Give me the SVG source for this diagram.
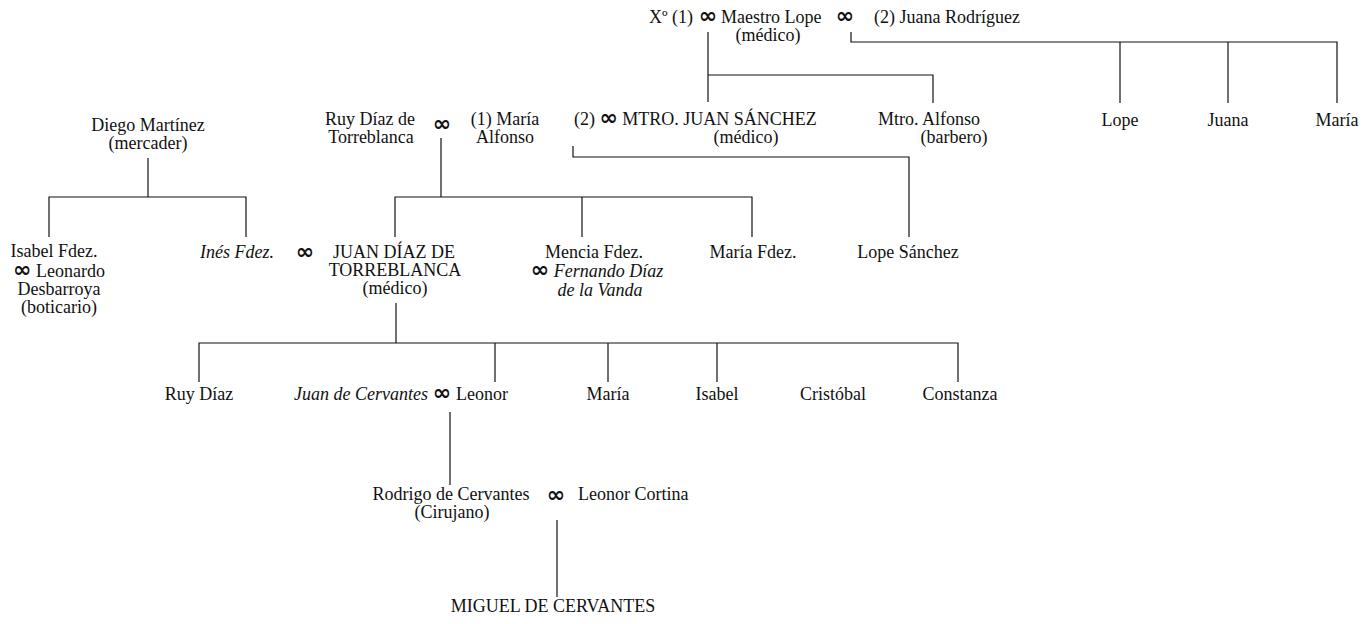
<svg xmlns="http://www.w3.org/2000/svg" width="1362" height="624" viewBox="0 0 1362 624">
<style>
  text { font-family: "Liberation Serif", "Times New Roman", serif; font-size: 18px; fill: #111; }
  .c { text-anchor: middle; }
  .e { text-anchor: end; }
  .i { font-style: italic; }
  .m { font-family: "DejaVu Sans", "Liberation Sans", sans-serif; font-weight: bold; font-size: 22px; }
  #connectors path { fill: none; stroke: #111; stroke-width: 1.2; }
</style>
<rect width="1362" height="624" fill="#ffffff"/>

<g id="connectors">
  <path d="M708 32 V102"/>
  <path d="M708 75 H933 V103"/>
  <path d="M851 32 V42 H1337 V103"/>
  <path d="M1120 42 V103"/>
  <path d="M1228 42 V103"/>
  <path d="M148 158 V197"/>
  <path d="M49 237 V197 H246 V237"/>
  <path d="M441 138 V197"/>
  <path d="M395 237 V197 H752 V237"/>
  <path d="M582 197 V237"/>
  <path d="M573 146 V157 H909 V237"/>
  <path d="M396 303 V343"/>
  <path d="M199 382 V343 H958 V382"/>
  <path d="M495 343 V382"/>
  <path d="M608 343 V382"/>
  <path d="M717 343 V382"/>
  <path d="M450 412 V485"/>
  <path d="M557 520 V597"/>
</g>

<g id="n-xo"><text x="693" y="23" class="e">Xº (1)</text></g>
<g id="m-lope-1"><text x="708" y="23" class="c m">∞</text></g>
<g id="n-maestro-lope"><text x="721" y="23">Maestro Lope</text><text x="768" y="41" class="c">(médico)</text></g>
<g id="m-lope-2"><text x="845" y="23" class="c m">∞</text></g>
<g id="n-juana-rodriguez"><text x="874" y="23">(2) Juana Rodríguez</text></g>

<g id="n-lope"><text x="1120" y="126" class="c">Lope</text></g>
<g id="n-juana"><text x="1228" y="126" class="c">Juana</text></g>
<g id="n-maria-top"><text x="1337" y="126" class="c">María</text></g>

<g id="n-diego-martinez"><text x="148" y="131" class="c">Diego Martínez</text><text x="148" y="149" class="c">(mercader)</text></g>
<g id="n-ruy-diaz-torreblanca"><text x="370" y="125" class="c">Ruy Díaz de</text><text x="371" y="143" class="c">Torreblanca</text></g>
<g id="m-ruy"><text x="442" y="131" class="c m">∞</text></g>
<g id="n-maria-alfonso"><text x="505" y="125" class="c">(1) María</text><text x="505" y="143" class="c">Alfonso</text></g>
<g id="n-juan-sanchez"><text x="574" y="125">(2) <tspan class="m">∞</tspan> MTRO. JUAN SÁNCHEZ</text><text x="746" y="143" class="c">(médico)</text></g>
<g id="n-alfonso"><text x="878" y="125">Mtro. Alfonso</text><text x="954" y="143" class="c">(barbero)</text></g>

<g id="n-isabel-fdez"><text x="54" y="257" class="c">Isabel Fdez.</text><text x="59" y="277" class="c"><tspan class="m">∞</tspan> Leonardo</text><text x="59" y="295" class="c">Desbarroya</text><text x="59" y="313" class="c">(boticario)</text></g>
<g id="n-ines-fdez"><text x="274" y="258" class="e i">Inés Fdez.</text></g>
<g id="m-juan-diaz"><text x="305" y="259" class="c m">∞</text></g>
<g id="n-juan-diaz"><text x="394" y="258" class="c">JUAN DÍAZ DE</text><text x="395" y="276" class="c">TORREBLANCA</text><text x="395" y="294" class="c">(médico)</text></g>
<g id="n-mencia-fdez"><text x="594" y="258" class="c">Mencia Fdez.</text><text x="597" y="277" class="c"><tspan class="m">∞</tspan> <tspan class="i">Fernando Díaz</tspan></text><text x="600" y="296" class="c i">de la Vanda</text></g>
<g id="n-maria-fdez"><text x="753" y="258" class="c">María Fdez.</text></g>
<g id="n-lope-sanchez"><text x="908" y="258" class="c">Lope Sánchez</text></g>

<g id="n-ruy-diaz"><text x="199" y="400" class="c">Ruy Díaz</text></g>
<g id="n-juan-cervantes"><text x="428" y="400" class="e i">Juan de Cervantes</text></g>
<g id="m-leonor"><text x="442" y="400" class="c m">∞</text></g>
<g id="n-leonor"><text x="456" y="400">Leonor</text></g>
<g id="n-maria"><text x="608" y="400" class="c">María</text></g>
<g id="n-isabel"><text x="717" y="400" class="c">Isabel</text></g>
<g id="n-cristobal"><text x="833" y="400" class="c">Cristóbal</text></g>
<g id="n-constanza"><text x="960" y="400" class="c">Constanza</text></g>

<g id="n-rodrigo"><text x="451" y="500" class="c">Rodrigo de Cervantes</text><text x="452" y="518" class="c">(Cirujano)</text></g>
<g id="m-rodrigo"><text x="556" y="502" class="c m">∞</text></g>
<g id="n-leonor-cortina"><text x="578" y="500">Leonor Cortina</text></g>

<g id="n-miguel"><text x="553" y="612" class="c">MIGUEL DE CERVANTES</text></g>
</svg>
